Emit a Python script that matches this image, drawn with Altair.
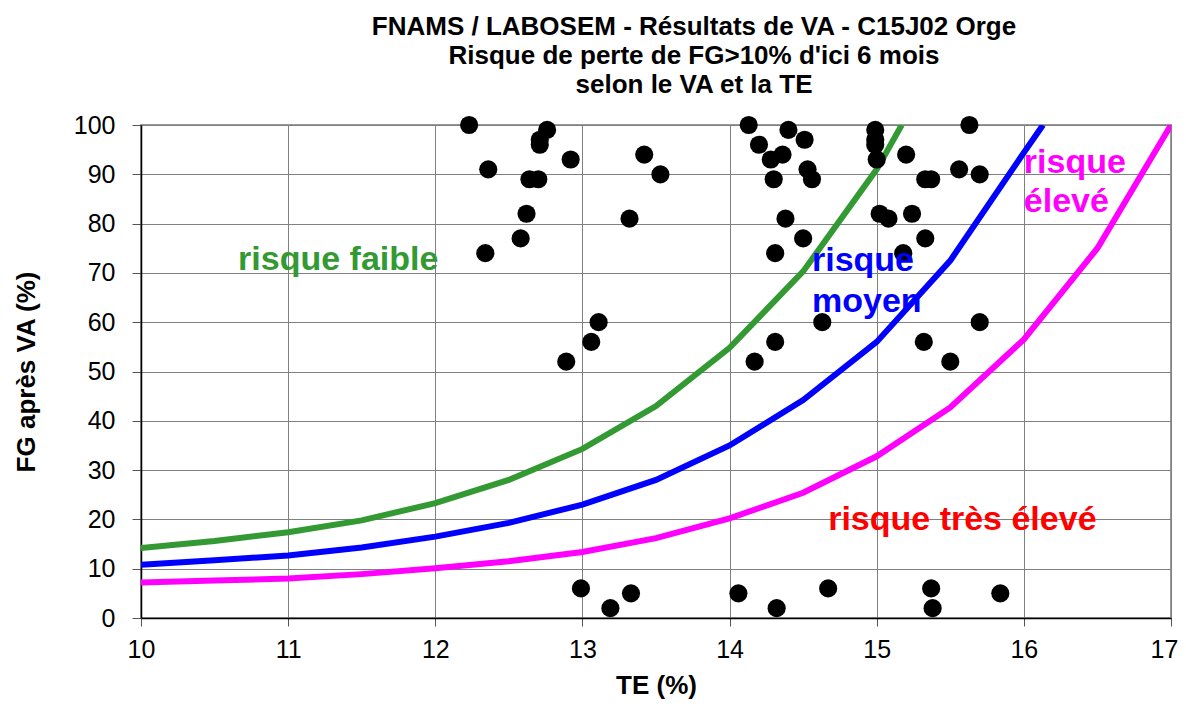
import altair as alt
import pandas as pd

# ---- scatter data (TE %, FG %) ----
pts_te = [12.23, 12.76, 12.71, 12.71, 12.92, 12.36, 12.64, 12.70, 12.62, 13.42, 13.53, 13.32,
          12.58, 12.34, 13.11, 13.06, 12.89,
          14.13, 14.40, 14.20, 14.51, 14.28, 14.36, 14.53, 14.56, 14.30,
          14.99, 14.99, 14.99, 15.00, 15.20, 15.33, 15.37, 15.56, 15.70, 15.63,
          14.38, 14.50, 14.31, 15.02, 15.08, 15.24, 15.33, 15.18,
          14.63, 14.31, 14.17, 15.70, 15.32, 15.50,
          12.99, 13.19, 13.33, 14.06, 14.32, 14.67, 15.37, 15.38, 15.84]
pts_fg = [100, 99, 97, 96, 93, 91, 89, 89, 82, 94, 90, 81,
          77, 74, 60, 56, 52,
          100, 99, 96, 97, 93, 94, 91, 89, 89,
          99, 97, 96, 93, 94, 89, 89, 91, 90, 100,
          81, 77, 74, 82, 81, 82, 77, 74,
          60, 56, 52, 60, 56, 52,
          6, 2, 5, 5, 2, 6, 6, 2, 5]

# ---- risk curves ----
green_x = [10, 10.5, 11, 11.5, 12, 12.5, 13, 13.5, 14, 14.5, 15, 15.17]
green_y = [14.2, 15.6, 17.4, 19.8, 23.3, 28.0, 34.3, 43.0, 54.8, 70.3, 91.0, 100]
blue_x = [10, 10.5, 11, 11.5, 12, 12.5, 13, 13.5, 14, 14.5, 15, 15.5, 16, 16.13]
blue_y = [10.8, 11.7, 12.7, 14.3, 16.5, 19.3, 23.0, 28.0, 35.0, 44.2, 56.0, 72.5, 94.4, 100]
mag_x = [10, 10.5, 11, 11.5, 12, 12.5, 13, 13.5, 14, 14.5, 15, 15.5, 16, 16.5, 17]
mag_y = [7.2, 7.6, 8.0, 8.9, 10.1, 11.5, 13.4, 16.2, 20.2, 25.4, 32.8, 42.7, 56.5, 75.0, 100]

series_names = ["faible", "moyen", "eleve"]
series_colors = ["#339933", "#0000ff", "#ff00ff"]

# ---- zone labels ----
lab_text = ["risque faible", "risque", "moyen", "risque", "élevé", "risque très élevé"]
lab_x = [10.66, 14.56, 14.56, 16.0, 16.0, 14.67]
lab_y = [70.5, 70.4, 62.1, 90.3, 82.4, 17.8]
lab_color = ["#339933", "#0000ff", "#0000ff", "#ff00ff", "#ff00ff", "#ff0000"]

title_lines = ["FNAMS / LABOSEM - Résultats de VA - C15J02 Orge",
               "Risque de perte de FG>10% d'ici 6 mois",
               "selon le VA et la TE"]

FONT = "Liberation Sans"

pts = pd.DataFrame({"te": pts_te, "fg": pts_fg})
curves = pd.concat([
    pd.DataFrame({"te": green_x, "fg": green_y, "s": "faible", "o": range(len(green_x))}),
    pd.DataFrame({"te": blue_x, "fg": blue_y, "s": "moyen", "o": range(len(blue_x))}),
    pd.DataFrame({"te": mag_x, "fg": mag_y, "s": "eleve", "o": range(len(mag_x))}),
])
labels = pd.DataFrame({"t": lab_text, "te": lab_x, "fg": lab_y, "c": lab_color})

xs = alt.Scale(domain=[10, 17], nice=False, zero=False)
ys = alt.Scale(domain=[0, 100], nice=False)

xax = alt.Axis(title="TE (%)", values=list(range(10, 18)), format="d", tickSize=8,
               labelPadding=11, titlePadding=10, labelFlush=False,
               labelOffset={"condition": {"test": "datum.value == 17", "value": -7}, "value": 0})
yax = alt.Axis(title="FG après VA (%)", values=list(range(0, 101, 10)), format="d",
               tickSize=9, labelPadding=17, titlePadding=34, labelFlush=False)

lines = alt.Chart(curves).mark_line(strokeWidth=6, clip=True).encode(
    x=alt.X("te:Q", scale=xs, axis=xax),
    y=alt.Y("fg:Q", scale=ys, axis=yax),
    color=alt.Color("s:N", scale=alt.Scale(domain=series_names, range=series_colors), legend=None),
    order="o:Q",
)

dots = alt.Chart(pts).mark_circle(size=330, color="black", opacity=1).encode(
    x=alt.X("te:Q", scale=xs), y=alt.Y("fg:Q", scale=ys)
)

texts = alt.Chart(labels).mark_text(font=FONT, fontSize=34, fontWeight="bold",
                                     align="left", baseline="alphabetic").encode(
    x=alt.X("te:Q", scale=xs), y=alt.Y("fg:Q", scale=ys),
    text="t:N", color=alt.Color("c:N", scale=None)
)

chart = alt.layer(lines, dots, texts).properties(
    width=1030, height=493,
    autosize=alt.AutoSizeParams(type="none"),
    padding={"left": 133, "top": 117, "right": 7, "bottom": 88},
    title=alt.TitleParams(title_lines, font=FONT, fontSize=26, fontWeight="bold",
                          lineHeight=29, anchor="middle", dx=38, offset=15, color="black"),
).configure_view(
    stroke="#999999", strokeWidth=2
).configure_axis(
    labelFont=FONT, labelFontSize=25, labelColor="black",
    titleFont=FONT, titleFontSize=26, titleFontWeight="bold", titleColor="black",
    gridColor="#808080", gridWidth=1, gridOpacity=1,
    domainColor="black", domainWidth=1.5, tickColor="#555555", tickWidth=1,
)

chart.save("out.html", embed_options={"renderer": "svg", "actions": False})
